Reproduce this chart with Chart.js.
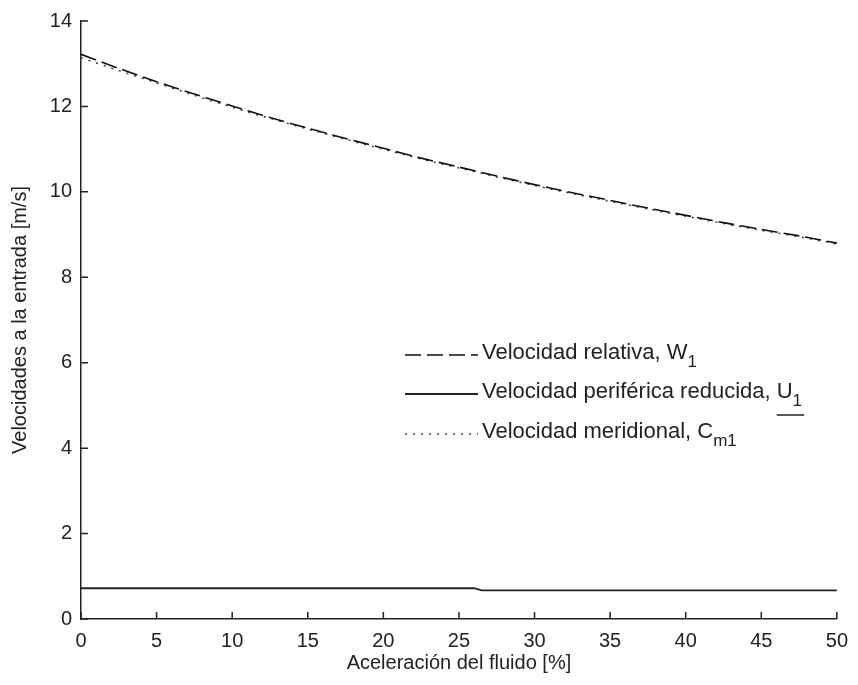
<!DOCTYPE html>
<html lang="es">
<head>
  <meta charset="UTF-8" />
  <title>Velocidades a la entrada</title>
  <script src="https://cdn.jsdelivr.net/npm/chart.js"></script>
  <style>
    html, body {
      margin: 0;
      padding: 0;
      background: #fff;
    }
    #chart-container {
      width: 858px;
      height: 685px;
    }
  </style>
</head>
<body>
  <div id="chart-container">
    <canvas id="velChart"></canvas>
  </div>

  <script>
    // aceleración del fluido [%]
    const accel = [0, 2.5, 5, 7.5, 10, 12.5, 15, 17.5, 20, 22.5, 25,
                   27.5, 30, 32.5, 35, 37.5, 40, 42.5, 45, 47.5, 50];
    // velocidad relativa W1 [m/s]
    const velRelativa = [13.22, 12.89, 12.58, 12.29, 12.01, 11.74, 11.49, 11.25, 11.02, 10.79, 10.58,
                         10.37, 10.17, 9.98, 9.80, 9.62, 9.45, 9.28, 9.12, 8.97, 8.80];
    // velocidad meridional Cm1 [m/s]
    const velMeridional = [13.14, 12.84, 12.55, 12.26, 11.98, 11.72, 11.47, 11.23, 11.00, 10.77, 10.56,
                           10.35, 10.15, 9.96, 9.78, 9.60, 9.43, 9.26, 9.10, 8.95, 8.78];
    // velocidad periférica reducida U1 [m/s]
    const accelU = [0, 26, 26.5, 50];
    const velPeriferica = [0.72, 0.72, 0.67, 0.67];

    const xTicks = [0, 5, 10, 15, 20, 25, 30, 35, 40, 45, 50];
    const yTicks = [0, 2, 4, 6, 8, 10, 12, 14];

    const FONT = '"Liberation Sans", Arial, Helvetica, sans-serif';
    const INK = '#222';

    const pts = (xs, ys) => xs.map((x, i) => ({ x: x, y: ys[i] }));

    // ticks hacia dentro, estilo MATLAB
    const inwardTicks = {
      id: 'inwardTicks',
      afterDatasetsDraw(chart) {
        const { ctx, chartArea, scales } = chart;
        ctx.save();
        ctx.strokeStyle = INK;
        ctx.lineWidth = 1.5;
        ctx.beginPath();
        xTicks.forEach(v => {
          const px = scales.x.getPixelForValue(v);
          ctx.moveTo(px, chartArea.bottom);
          ctx.lineTo(px, chartArea.bottom - 7);
        });
        yTicks.forEach(v => {
          const py = scales.y.getPixelForValue(v);
          ctx.moveTo(chartArea.left, py);
          ctx.lineTo(chartArea.left + 7, py);
        });
        ctx.stroke();
        ctx.restore();
      }
    };

    // leyenda con subíndices
    const subLegend = {
      id: 'subLegend',
      afterDraw(chart) {
        const ctx = chart.ctx;
        const sets = chart.data.datasets;
        const x0 = 405, x1 = 478, tx = 482;
        const rows = [
          { ds: sets[0], text: 'Velocidad relativa, ', main: 'W', sub: '1', y: 353 },
          { ds: sets[1], text: 'Velocidad periférica reducida, ', main: 'U', sub: '1', y: 392, underline: true },
          { ds: sets[2], text: 'Velocidad meridional, ', main: 'C', sub: 'm1', y: 432 }
        ];
        ctx.save();
        rows.forEach(r => {
          ctx.strokeStyle = r.ds.borderColor;
          ctx.lineWidth = r.ds.borderWidth;
          ctx.setLineDash(r.ds.borderDash || []);
          ctx.beginPath();
          ctx.moveTo(x0, r.y + 2);
          ctx.lineTo(x1, r.y + 2);
          ctx.stroke();
          ctx.setLineDash([]);

          ctx.fillStyle = INK;
          ctx.textBaseline = 'middle';
          ctx.textAlign = 'left';
          ctx.font = '22px ' + FONT;
          ctx.fillText(r.text, tx, r.y);
          let cx = tx + ctx.measureText(r.text).width;
          const startMain = cx;
          ctx.fillText(r.main, cx, r.y);
          cx += ctx.measureText(r.main).width;
          ctx.font = '17px ' + FONT;
          ctx.fillText(r.sub, cx, r.y + 9);
          cx += ctx.measureText(r.sub).width;
          if (r.underline) {
            ctx.strokeStyle = INK;
            ctx.lineWidth = 1.5;
            ctx.beginPath();
            ctx.moveTo(startMain, r.y + 23);
            ctx.lineTo(cx + 2, r.y + 23);
            ctx.stroke();
          }
        });
        ctx.restore();
      }
    };

    new Chart(document.getElementById('velChart'), {
      type: 'line',
      data: {
        datasets: [
          {
            label: 'Velocidad relativa, W1',
            data: pts(accel, velRelativa),
            borderColor: '#111',
            borderWidth: 1.6,
            borderDash: [16, 6],
            pointRadius: 0,
            tension: 0.3
          },
          {
            label: 'Velocidad periférica reducida, U1',
            data: pts(accelU, velPeriferica),
            borderColor: '#222',
            borderWidth: 1.8,
            pointRadius: 0,
            tension: 0
          },
          {
            label: 'Velocidad meridional, Cm1',
            data: pts(accel, velMeridional),
            borderColor: '#444',
            borderWidth: 1.6,
            borderDash: [2, 6],
            pointRadius: 0,
            tension: 0.3
          }
        ]
      },
      options: {
        responsive: true,
        maintainAspectRatio: false,
        animation: false,
        layout: { padding: { top: 20, right: 15, left: 0, bottom: 0 } },
        plugins: {
          legend: { display: false },
          title: { display: false },
          tooltip: { enabled: false }
        },
        scales: {
          x: {
            type: 'linear',
            min: 0,
            max: 50,
            afterFit: s => { s.height = 66; },
            afterBuildTicks: s => { s.ticks = xTicks.map(v => ({ value: v })); },
            ticks: {
              color: INK,
              font: { family: FONT, size: 20 },
              padding: 10,
              maxRotation: 0
            },
            grid: { drawOnChartArea: false, drawTicks: false },
            border: { display: true, color: INK, width: 1.5 },
            title: {
              display: true,
              text: 'Aceleración del fluido [%]',
              color: INK,
              font: { family: FONT, size: 20 },
              padding: { top: 0, bottom: 10 }
            }
          },
          y: {
            min: 0,
            max: 14,
            afterFit: s => { s.width = 81; },
            afterBuildTicks: s => { s.ticks = yTicks.map(v => ({ value: v })); },
            ticks: {
              color: INK,
              font: { family: FONT, size: 20 },
              padding: 9
            },
            grid: { drawOnChartArea: false, drawTicks: false },
            border: { display: true, color: INK, width: 1.5 },
            title: {
              display: true,
              text: 'Velocidades a la entrada [m/s]',
              color: INK,
              font: { family: FONT, size: 20 },
              padding: { top: 8, bottom: 0 }
            }
          }
        }
      },
      plugins: [inwardTicks, subLegend]
    });
  </script>
</body>
</html>
